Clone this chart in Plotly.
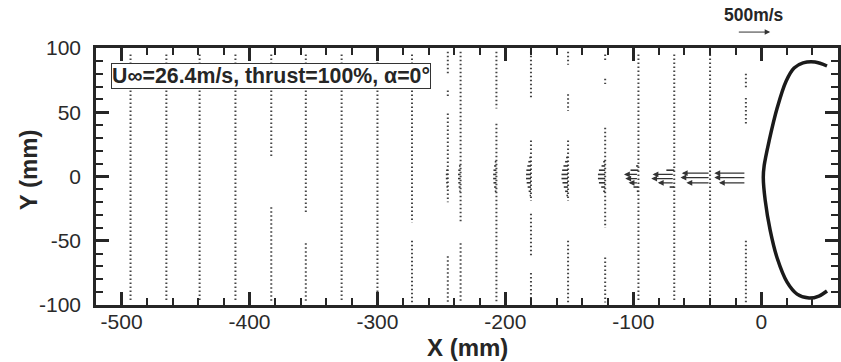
import plotly.graph_objects as go

# ---------------- data ----------------
# measurement stations (mm) and the y-extent of each column of (tiny) vectors
stations = [-493, -465, -439, -411, -383, -356, -328, -300, -273, -245,
            -235, -207, -180, -151, -122, -96, -68, -40, -12]
column_spans = [
    [(95, -98)],
    [(95, -98)],
    [(95, -98)],
    [(95, -98)],
    [(95, 15), (-24, -98)],
    [(95, -28), (-52, -98)],
    [(95, -98)],
    [(95, -98)],
    [(95, -36), (-50, -98)],
    [(97, 80), (67, 61), (49, -20), (-62, -98)],
    [(97, -36), (-52, -98)],
    [(97, 53), (41, -98)],
    [(97, 61), (28, -19), (-29, -63), (-75, -98)],
    [(97, 87), (64, 51), (28, -19), (-50, -98)],
    [(95, 90), (76, 72), (38, -40), (-63, -98)],
    [(95, -98)],
    [(95, -98)],
    [(95, -98)],
    [(80, 69), (61, 41), (-50, -98)],
]

# visible velocity vectors near the axis: station x (mm), y (mm), u (m/s)
vec_station = ([-245] * 5 + [-235] * 7 + [-207] * 8 + [-180] * 10 + [-151] * 10 +
               [-122] * 8 + [-96] * 7 + [-68] * 5 + [-40] * 3 + [-12] * 3)
vec_y = [4.9, 1.6, -1.6, -4.9, -8.2,
         8.2, 4.9, 1.6, -1.6, -4.9, -8.2, -11.5,
         11.5, 8.2, 4.9, 1.6, -1.6, -4.9, -8.2, -11.5,
         14.8, 11.5, 8.2, 4.9, 1.6, -1.6, -4.9, -8.2, -11.5, -14.8,
         14.8, 11.5, 8.2, 4.9, 1.6, -1.6, -4.9, -8.2, -11.5, -14.8,
         11.5, 8.2, 4.9, 1.6, -1.6, -4.9, -8.2, -11.5,
         8.2, 4.9, 1.6, -1.6, -4.9, -8.2, -11.5,
         4.9, 1.6, -1.6, -4.9, -8.2,
         2.6, -0.8, -4.9,
         2.6, -0.8, -4.9]
vec_u = [-25, -30, -30, -25, -20,
         -25, -35, -40, -40, -35, -30, -20,
         -25, -35, -45, -50, -50, -45, -35, -25,
         -25, -40, -55, -70, -75, -75, -65, -50, -35, -20,
         -30, -45, -70, -90, -100, -100, -85, -65, -45, -25,
         -30, -55, -95, -110, -110, -95, -60, -30,
         -35, -120, -220, -200, -150, -75, -25,
         -120, -330, -350, -250, -70,
         -430, -450, -360,
         -480, -480, -410]

# reference vector (tail x in mm, height in paper fraction)
ref_speed = 500          # m/s
ref_tail_x = -18.7
ref_row = 1.062
vec_scale = 25.7 / ref_speed   # mm of plot per m/s

# nose contour (mm)
body_x = [51.4, 42.0, 32.7, 25.7, 19.5, 12.5, 6.2, 2.3, 1.6, 3.1, 7.0,
          12.5, 20.2, 28.0, 37.4, 45.1, 51.4]
body_y = [86.0, 89.1, 88.4, 84.5, 74.4, 53.5, 27.9, 8.5, -0.8, -18.6, -41.9,
          -63.6, -82.2, -91.5, -94.6, -93.0, -89.1]

x_tick_vals = [-500, -400, -300, -200, -100, 0]
x_tick_text = ["-500", "-400", "-300", "-200", "-100", "0"]
y_tick_vals = [-100, -50, 0, 50, 100]
y_tick_text = ["-100", "-50", "0", "50", "100"]

# ---------------- figure ----------------
ink = "#262626"
fig = go.Figure()

# columns of tiny vectors, rendered as dotted columns
col_x, col_y = [], []
for st, spans in zip(stations, column_spans):
    for top, bot in spans:
        col_x += [st, st, None]
        col_y += [top, bot, None]
fig.add_trace(go.Scatter(x=col_x, y=col_y, mode="lines",
                         line=dict(color="#444444", width=2, dash="1.5px,2.5px"),
                         hoverinfo="skip", showlegend=False))

# short vectors as plain segments, long ones as arrows
seg_x, seg_y = [], []
arrows = []
for st, y, u in zip(vec_station, vec_y, vec_u):
    head = st + u * vec_scale
    if abs(u) >= 150:
        arrows.append(dict(x=head, y=y, ax=st, ay=y, xref="x", yref="y",
                           axref="x", ayref="y", text="", showarrow=True,
                           arrowhead=2, arrowsize=0.9, arrowwidth=1.3,
                           arrowcolor="#333333", standoff=0))
    else:
        seg_x += [st, head, None]
        seg_y += [y, y, None]
fig.add_trace(go.Scatter(x=seg_x, y=seg_y, mode="lines",
                         line=dict(color="#333333", width=1.6),
                         hoverinfo="skip", showlegend=False))

# nose contour
fig.add_trace(go.Scatter(x=body_x, y=body_y, mode="lines",
                         line=dict(color="#1a1a1a", width=3.5, shape="spline"),
                         hoverinfo="skip", showlegend=False))

annotations = arrows + [
    # reference vector above the frame
    dict(x=ref_tail_x + ref_speed * vec_scale, y=ref_row,
         ax=ref_tail_x, ay=0, xref="x", yref="paper", axref="x", ayref="pixel",
         text="", showarrow=True, arrowhead=2, arrowsize=1.1, arrowwidth=1,
         arrowcolor="#333333", standoff=0),
    dict(x=-5.4, y=1.128, xref="x", yref="paper", xanchor="center",
         yanchor="middle", text="<b>500m/s</b>",
         showarrow=False, font=dict(size=17.5, color=ink)),
    # flow condition box
    dict(x=0.0201, y=0.9416, xref="paper", yref="paper", xanchor="left",
         yanchor="top", text="<b>U∞=26.4m/s, thrust=100%, α=0°</b>",
         showarrow=False, font=dict(size=21.3, color=ink), bgcolor="white",
         bordercolor="#333333", borderwidth=1, borderpad=0),
    # axis titles
    dict(x=0.5, y=-0.167, xref="paper", yref="paper", xanchor="center",
         yanchor="middle", text="<b>X (mm)</b>",
         showarrow=False, font=dict(size=24, color=ink)),
    dict(x=-0.0913, y=0.525, xref="paper", yref="paper", xanchor="center",
         yanchor="middle", text="<b>Y (mm)</b>",
         showarrow=False, textangle=-90, font=dict(size=24, color=ink)),
]

axis_common = dict(
    showline=True, linewidth=2.5, linecolor=ink, mirror="ticks",
    ticks="inside", ticklen=13, tickwidth=3, tickcolor=ink,
    showgrid=False, zeroline=False,
    tickfont=dict(size=21, color="#2a2a2a"),
)

fig.update_layout(
    width=841, height=362,
    margin=dict(l=96, r=0, t=48, b=57),
    paper_bgcolor="white", plot_bgcolor="white",
    font=dict(family="Liberation Sans, Arial, sans-serif", color=ink),
    xaxis=dict(range=[-520, 60], tickmode="array", tickvals=x_tick_vals,
               ticktext=x_tick_text, ticklabelstandoff=-4,
               minor=dict(tickmode="linear", tick0=0, dtick=20, ticks="inside",
                          ticklen=7, tickwidth=1.5, tickcolor=ink),
               **axis_common),
    yaxis=dict(range=[-100, 100], tickmode="array", tickvals=y_tick_vals,
               ticktext=y_tick_text, ticklabelstandoff=8,
               minor=dict(tickmode="linear", tick0=0, dtick=10, ticks="inside",
                          ticklen=7, tickwidth=1.5, tickcolor=ink),
               **axis_common),
    annotations=annotations,
    showlegend=False,
)

fig.write_html("out.html")
